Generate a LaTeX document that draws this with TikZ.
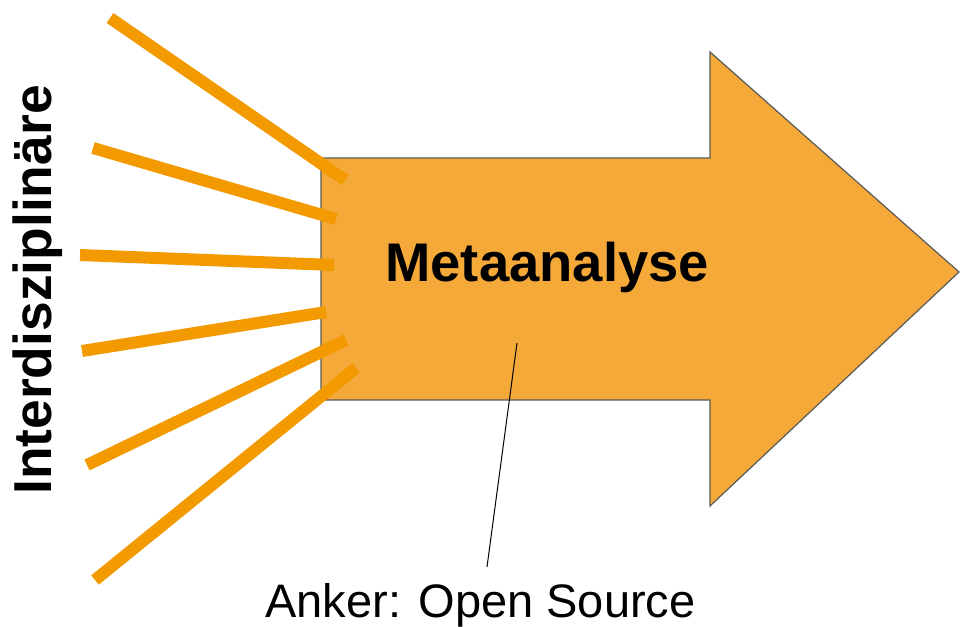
\documentclass[tikz,border=0pt]{standalone}
\usepackage{fontspec}
\setmainfont{Liberation Sans}
\definecolor{pfeil}{RGB}{245,169,56}
\definecolor{strahl}{RGB}{242,154,0}

\begin{document}
\begin{tikzpicture}[x=0.5pt,y=-0.5pt,anchor=center]
	\useasboundingbox		(0,0) rectangle (960,627);

	\draw[fill=pfeil, draw=black!65, line width=0.6pt]
		(321,158) -- (710,158) -- (710,52) -- (959,272) -- (710,506) -- (710,400) -- (321,400) -- cycle;

	\draw[line width=6pt, strahl]		(110,18) -- (345,180);
	\draw[line width=6pt, strahl]		(93,148) -- (336,219);
	\draw[line width=6pt, strahl]		(80,255) -- (334,265);
	\draw[line width=6pt, strahl]		(82,351) -- (326,312);
	\draw[line width=6pt, strahl]		(87,465) -- (346,340);
	\draw[line width=6pt, strahl]		(95,580) -- (356,368);

	\node[rotate=90, font=\bfseries\fontsize{26.7}{30}\selectfont] (inter) at (38,290) {Interdisziplinäre};
	\node[anchor=base west, inner sep=0pt, font=\bfseries\fontsize{27.2}{30}\selectfont] (meta) at (385,281) {Metaanalyse};
	\node[anchor=base west, inner sep=0pt, font=\fontsize{23.5}{27}\selectfont] (anker) at (265,617) {Anker: Open Source};

	\coordinate (zeiger) at (517,343);
	\coordinate (zeigerend) at (487,567);
	\draw[line width=0.5pt]		(zeiger) -- (zeigerend);

\end{tikzpicture}
\end{document}
